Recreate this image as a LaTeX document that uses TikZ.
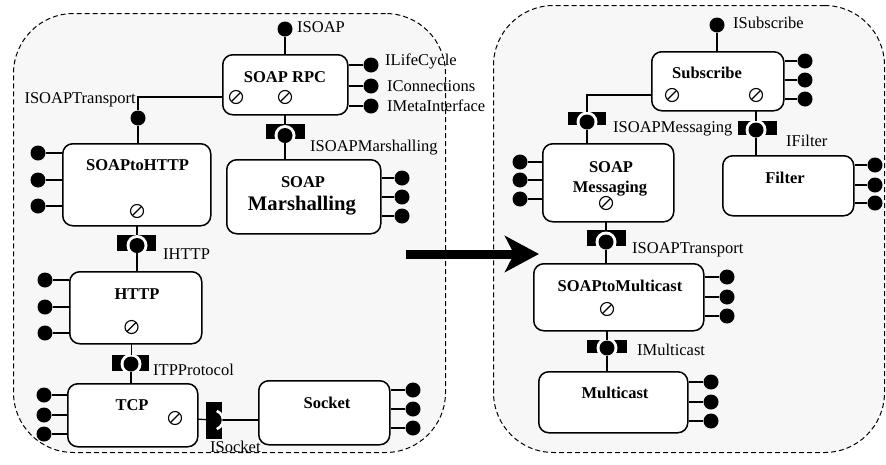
\documentclass[tikz,border=0pt]{standalone}
\usepackage{fontspec}
\setmainfont{Liberation Serif}
\usetikzlibrary{arrows.meta}
\definecolor{panel}{RGB}{247,247,247}
\pgfdeclarelayer{back}
\pgfdeclarelayer{wires}
\pgfsetlayers{back,wires,main}
\tikzset{
  container/.style={draw, dash pattern=on 5pt off 3pt, line width=1pt, fill=panel,
    rounded corners=60pt, inner sep=0, anchor=north west},
  comp/.style={draw, line width=1.5pt, rounded corners=10pt, fill=white, inner sep=0, anchor=north west},
  wire/.style={line width=1.3pt},
  ball/.style={circle, fill=black, minimum size=15pt, inner sep=0},
  sock/.style={circle, draw, fill=white, line width=1.1pt, minimum size=13pt, inner sep=0,
    path picture={\draw[line width=1.1pt] (path picture bounding box.south west) -- (path picture bounding box.north east);}},
  recbox/.style={fill=black, inner sep=0, anchor=north west},
  iface/.style={font=\fontsize{16.5}{18}\selectfont, inner sep=0, anchor=base west},
  title/.style={font=\bfseries\fontsize{16.5}{18}\selectfont, inner sep=0, anchor=base},
}
% receptacle: name, x1, y1, x2, y2, ball x, ball y
\newcommand\recep[7]{%
  \node[recbox, minimum width={#4-#2}, minimum height={#5-#3}] (#1) at (#2,#3) {};
  \begin{scope}
    \clip (#1.south west) rectangle (#1.north east);
    \fill[white] (#6,#7) circle (10.5);
  \end{scope}
  \node[ball] (#1b) at (#6,#7) {};}
\begin{document}
\begin{tikzpicture}[x=1pt,y=-1pt]
\useasboundingbox (0,0) rectangle (886,464);

% the two configurations
\begin{pgfonlayer}{back}
  \node[container, minimum width=432, minimum height=439] (before) at (13,13) {};
  \node[container, minimum width=391, minimum height=447] (after) at (493,5) {};
\end{pgfonlayer}

% ---------- left configuration ----------
\node[comp, minimum width=125, minimum height=60] (rpc) at (222,54) {};
\node[title] (rpcT) at (285,82) {SOAP RPC};
\node[sock] (rpcS1) at (236,97) {};
\node[sock] (rpcS2) at (285,97) {};
\node[ball] (isoap) at (285,29) {};
\node[iface] (isoapL) at (297,32) {ISOAP};
\foreach \y [count=\i] in {65,86,106} {
  \node[ball] (rpcL\i) at (371,\y) {};
  \draw[wire] (rpc.east |- rpcL\i) -- (rpcL\i);
}
\node[iface] (lcL) at (385,65) {ILifeCycle};
\node[iface] (cnL) at (387,91.5) {IConnections};
\node[iface] (miL) at (387,111.5) {IMetaInterface};

\node[ball] (trB) at (138,118) {};
\coordinate (trBend) at (138,97);
\node[iface, anchor=base east] (trL) at (136,103) {ISOAPTransport};

\node[comp, minimum width=148, minimum height=82] (s2h) at (62,143) {};
\node[title] (s2hT) at (137.5,170) {SOAPtoHTTP};
\node[sock] (s2hS) at (137,211) {};
\foreach \y [count=\i] in {153,180,206} {
  \node[ball] (s2hL\i) at (38,\y) {};
  \draw[wire] (s2h.west |- s2hL\i) -- (s2hL\i);
}

\node[comp, minimum width=154, minimum height=74] (marsh) at (226,159) {};
\node[title] (marshT1) at (303,187) {SOAP};
\node[title, font=\bfseries\fontsize{20.7}{22}\selectfont] (marshT2) at (302,210) {Marshalling};
\foreach \y [count=\i] in {178,197,216} {
  \node[ball] (marshL\i) at (402,\y) {};
  \draw[wire] (marsh.east |- marshL\i) -- (marshL\i);
}
\recep{rM}{266}{124}{305}{139}{285}{135.5}
\node[iface] (rML) at (310,151) {ISOAPMarshalling};

\recep{rH}{117}{235}{156}{251}{137}{245.5}
\node[iface] (rHL) at (163,259) {IHTTP};

\node[comp, minimum width=132, minimum height=72] (http) at (69,271) {};
\node[title] (httpT) at (137,299) {HTTP};
\node[sock] (httpS) at (131.5,327) {};
\foreach \y [count=\i] in {280,307,333} {
  \node[ball] (httpL\i) at (45,\y) {};
  \draw[wire] (http.west |- httpL\i) -- (httpL\i);
}

\recep{rP}{112}{355}{149}{371}{131}{364}
\node[iface] (rPL) at (153,375) {ITPProtocol};

\node[comp, minimum width=130, minimum height=63] (tcp) at (67,383) {};
\node[title] (tcpT) at (132,410) {TCP};
\node[sock] (tcpS) at (175,418) {};
\foreach \y [count=\i] in {395,415,434} {
  \node[ball] (tcpL\i) at (44,\y) {};
  \draw[wire] (tcp.west |- tcpL\i) -- (tcpL\i);
}

% ISocket receptacle, lying on its side
\node[recbox, minimum width=16, minimum height=37] (rS) at (206,402) {};
\begin{scope}
  \clip (rS.south west) rectangle (rS.north east);
  \draw[white, line width=2.6pt] (213.5,420) ++(-70:9.6) arc (-70:70:9.6);
\end{scope}
\node[ball] (rSb) at (213.5,420) {};
\node[iface] (rSL) at (210,452) {ISocket};

\node[comp, minimum width=131, minimum height=64] (sockc) at (258,380) {};
\node[title] (sockT) at (327,408) {Socket};
\foreach \y [count=\i] in {390,409,428} {
  \node[ball] (sockL\i) at (413,\y) {};
  \draw[wire] (sockc.east |- sockL\i) -- (sockL\i);
}

% ---------- right configuration ----------
\node[comp, minimum width=132, minimum height=59] (subs) at (651,51) {};
\node[title] (subsT) at (707,78) {Subscribe};
\node[sock] (subsS1) at (672,95) {};
\node[sock] (subsS2) at (756,95) {};
\node[ball] (isub) at (717,25) {};
\node[iface] (isubL) at (733,28) {ISubscribe};
\foreach \y [count=\i] in {61,80,99} {
  \node[ball] (subsL\i) at (805,\y) {};
  \draw[wire] (subs.east |- subsL\i) -- (subsL\i);
}
\coordinate (msgBend) at (587,95);
\recep{rSM}{568}{112}{606}{125}{587}{122}
\node[iface] (rSML) at (613,132) {ISOAPMessaging};
\recep{rF}{738}{121}{777}{135}{756}{130}
\node[iface] (rFL) at (786,146) {IFilter};

\node[comp, minimum width=131, minimum height=78] (msg) at (542,143) {};
\node[title] (msgT1) at (611,172) {SOAP};
\node[title] (msgT2) at (610,192) {Messaging};
\node[sock] (msgS) at (606,203) {};
\foreach \y [count=\i] in {162,180,199} {
  \node[ball] (msgL\i) at (520,\y) {};
  \draw[wire] (msg.west |- msgL\i) -- (msgL\i);
}

\node[comp, minimum width=131, minimum height=60] (filt) at (722,155) {};
\node[title] (filtT) at (785,183) {Filter};
\foreach \y [count=\i] in {165,185,203} {
  \node[ball] (filtL\i) at (875,\y) {};
  \draw[wire] (filt.east |- filtL\i) -- (filtL\i);
}

\recep{rT}{587}{230}{626}{246}{606}{242}
\node[iface] (rTL) at (632,253) {ISOAPTransport};

\node[comp, minimum width=170, minimum height=67] (s2m) at (533,263) {};
\node[title] (s2mT) at (620,291) {SOAPtoMulticast};
\node[sock] (s2mS) at (607,309) {};
\foreach \y [count=\i] in {277,297,316} {
  \node[ball] (s2mL\i) at (727,\y) {};
  \draw[wire] (s2m.east |- s2mL\i) -- (s2mL\i);
}

\recep{rMC}{587}{340}{627}{353}{607}{348}
\node[iface] (rMCL) at (637,355) {IMulticast};

\node[comp, minimum width=149, minimum height=61] (mcast) at (538,371) {};
\node[title] (mcastT) at (615,398) {Multicast};
\foreach \y [count=\i] in {382,402,421} {
  \node[ball] (mcastL\i) at (711,\y) {};
  \draw[wire] (mcast.east |- mcastL\i) -- (mcastL\i);
}

% ---------- bindings ----------
\begin{pgfonlayer}{wires}
  \draw[wire] (isoap) -- (rpc.north -| isoap);
  \draw[wire] (rpcS1) -- (trBend) -- (trB);
  \draw[wire] (trB) -- (s2h.north -| trB);
  \draw[wire] (rpcS2) -- (rMb);
  \draw[wire] (rMb) -- (marsh.north -| rMb);
  \draw[wire] (s2hS) -- (rHb);
  \draw[wire] (rHb) -- (http.north -| rHb);
  \draw[wire] (httpS) -- (httpS |- rPb);
  \draw[wire] (rPb) -- (tcp.north -| rPb);
  \draw[wire] (tcpS) -- (rSb);
  \draw[wire] (rSb) -- (sockc.west |- rSb);
  \draw[wire] (isub) -- (subs.north -| isub);
  \draw[wire] (subsS1) -- (msgBend) -- (rSMb);
  \draw[wire] (rSMb) -- (msg.north -| rSMb);
  \draw[wire] (subsS2) -- (rFb);
  \draw[wire] (rFb) -- (filt.north -| rFb);
  \draw[wire] (msgS) -- (rTb);
  \draw[wire] (rTb) -- (s2m.north -| rTb);
  \draw[wire] (s2mS) -- (rMCb);
  \draw[wire] (rMCb) -- (mcast.north -| rMCb);
\end{pgfonlayer}

% reconfiguration arrow
\coordinate (arrS) at (406,254);
\coordinate (arrE) at (539,254);
\draw[line width=9pt, -{Stealth[length=34pt, width=36pt, inset=9pt]}] (arrS) -- (arrE);
\end{tikzpicture}
\end{document}
